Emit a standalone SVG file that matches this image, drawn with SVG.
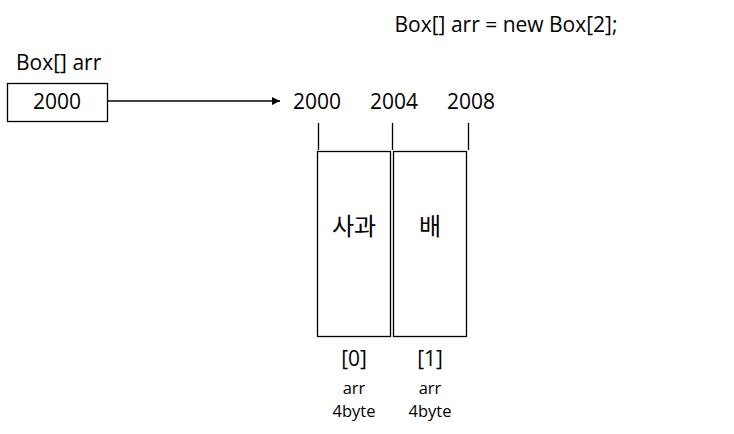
<svg xmlns="http://www.w3.org/2000/svg" width="734" height="434" viewBox="0 0 734 434">
<style>
.t{font-family:"Open Sans","Liberation Sans","Noto Sans CJK KR",sans-serif;fill:#000}
.l{font-size:21px}
.s{font-size:16.5px}
.k{font-family:"Noto Sans CJK KR",sans-serif;font-size:24px;font-weight:400;fill:#000}
.b{fill:#fff;stroke:#000;stroke-width:1.3}
.c{stroke:#000;stroke-width:1.3;fill:none}
</style>
<defs>
<marker id="ah" markerWidth="8" markerHeight="8" refX="8" refY="4" orient="auto" markerUnits="userSpaceOnUse">
<path d="M0,0 L8,4 L0,8 z" fill="#000"/>
</marker>
</defs>
<rect width="734" height="434" fill="#fff"/>
<text class="t l" x="506" y="32" text-anchor="middle">Box[] arr = new Box[2];</text>
<g id="var">
<text class="t l" x="16" y="70">Box[] arr</text>
<rect class="b" x="7.5" y="83.5" width="100" height="38"/>
<text class="t l" x="57" y="109" text-anchor="middle">2000</text>
</g>
<g id="addr">
<text class="t l" x="317" y="109" text-anchor="middle">2000</text>
<text class="t l" x="394" y="109" text-anchor="middle">2004</text>
<text class="t l" x="471" y="109" text-anchor="middle">2008</text>
</g>
<g id="cell0">
<rect class="b" x="317.5" y="151.5" width="73" height="185"/>
<text class="k" x="354" y="235" text-anchor="middle">사과</text>
<text class="t l" x="354" y="366" text-anchor="middle">[0]</text>
<text class="t s" x="354" y="394" text-anchor="middle">arr</text>
<text class="t s" x="354" y="417" text-anchor="middle">4byte</text>
</g>
<g id="cell1">
<rect class="b" x="393.5" y="151.5" width="73" height="185"/>
<text class="k" x="430" y="235" text-anchor="middle">배</text>
<text class="t l" x="430" y="366" text-anchor="middle">[1]</text>
<text class="t s" x="430" y="394" text-anchor="middle">arr</text>
<text class="t s" x="430" y="417" text-anchor="middle">4byte</text>
</g>
<g id="connectors">
<line class="c" x1="108" y1="101" x2="280" y2="101" marker-end="url(#ah)"/>
<line class="c" x1="318.5" y1="123" x2="318.5" y2="150"/>
<line class="c" x1="392.5" y1="123" x2="392.5" y2="150"/>
<line class="c" x1="468.5" y1="123" x2="468.5" y2="150"/>
</g>
</svg>
